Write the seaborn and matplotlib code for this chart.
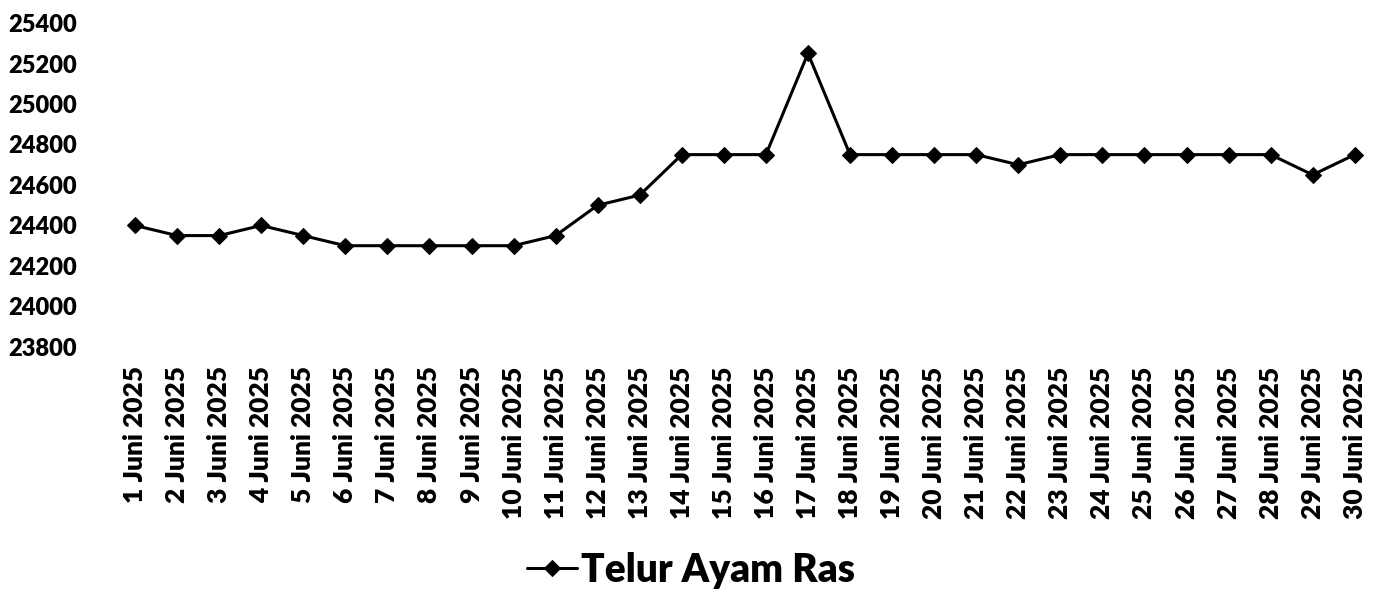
import matplotlib
matplotlib.use("Agg")
import matplotlib.pyplot as plt
import seaborn as sns
import pandas as pd

dates = [f"{d} Juni 2025" for d in range(1, 31)]
prices = [24400, 24350, 24350, 24400, 24350, 24300, 24300, 24300, 24300, 24300,
          24350, 24500, 24550, 24750, 24750, 24750, 25250, 24750, 24750, 24750,
          24750, 24700, 24750, 24750, 24750, 24750, 24750, 24750, 24650, 24750]
series_name = "Telur Ayam Ras"
yticks = list(range(23800, 25401, 200))

sns.set_theme(style="white")
plt.rcParams['font.family'] = ['Lato', 'DejaVu Sans']
plt.rcParams['text.color'] = 'black'
plt.rcParams['xtick.color'] = 'black'
plt.rcParams['ytick.color'] = 'black'

df = pd.DataFrame({"Tanggal": dates, "Harga": prices, "Komoditas": series_name})

fig = plt.figure(figsize=(13.82, 5.91), dpi=100)
ax = fig.add_axes([0.0825, 0.413, 0.913, 0.548])
sns.lineplot(data=df, x="Tanggal", y="Harga", hue="Komoditas", palette=["black"],
             marker="D", markersize=8, linewidth=2.2, sort=False, ax=ax,
             markeredgecolor="black", legend=True)
ax.set_xlim(-0.5, len(dates) - 0.5)
ax.set_ylim(23800, 25400)
ax.set_yticks(yticks)
ax.set_yticklabels([str(v) for v in yticks], fontsize=17, fontweight="heavy", color="black")
ax.set_xticks(range(len(dates)))
ax.set_xticklabels(dates, rotation=90, fontsize=19, fontweight="heavy", color="black")
ax.tick_params(axis="x", length=0, pad=14)
ax.tick_params(axis="y", length=0, pad=76)
for lab in ax.get_yticklabels():
    lab.set_horizontalalignment("left")
for s in ax.spines.values():
    s.set_visible(False)
ax.set_xlabel("")
ax.set_ylabel("")
handles, labels = ax.get_legend_handles_labels()
ax.get_legend().remove()
fig.legend(handles, labels, loc="center", bbox_to_anchor=(0.5, 0.035), frameon=False,
           prop={"size": 28, "weight": "heavy"}, handlelength=1.3, handletextpad=0.1,
           labelcolor="black")
fig.savefig("out.png", dpi=100)
